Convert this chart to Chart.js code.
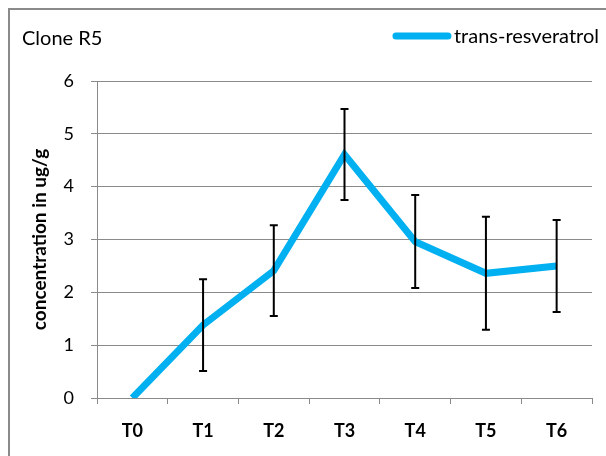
<!DOCTYPE html>
<html>
<head>
<meta charset="utf-8">
<script src="https://cdn.jsdelivr.net/npm/chart.js@4.4.1/dist/chart.umd.min.js"></script>
<style>
  html, body { margin: 0; padding: 0; background: #fff; overflow: hidden; }
  #frame { position: absolute; left: 8px; top: 8px; width: 700px; height: 600px;
           border-left: 2px solid #8a8a8a; border-top: 2px solid #8a8a8a; }
  #c { position: absolute; left: 0; top: 0; }
</style>
</head>
<body>
<div id="frame"></div>
<canvas id="c" width="606" height="456"></canvas>
<script>
const timepoints = ["T0", "T1", "T2", "T3", "T4", "T5", "T6"];
const resveratrol = [0, 1.38, 2.41, 4.61, 2.96, 2.36, 2.5];
const errors = [0, 0.87, 0.86, 0.86, 0.88, 1.07, 0.87];
const yTicks = [0, 1, 2, 3, 4, 5, 6];

const gridColor = "#8a8a8a";

// error bars, drawn through the chart's own scales
const errorBars = {
    id: "errorBars",
    afterDatasetsDraw(chart) {
        const ctx = chart.ctx;
        const x = chart.scales.x, y = chart.scales.y;
        ctx.save();
        ctx.strokeStyle = "#000";
        ctx.lineWidth = 2;
        resveratrol.forEach((v, i) => {
            if (!errors[i]) return;
            const px = x.getPixelForValue(i);
            const top = y.getPixelForValue(v + errors[i]);
            const bot = y.getPixelForValue(v - errors[i]);
            ctx.beginPath();
            ctx.moveTo(px, top); ctx.lineTo(px, bot);
            ctx.moveTo(px - 4, top); ctx.lineTo(px + 4, top);
            ctx.moveTo(px - 4, bot); ctx.lineTo(px + 4, bot);
            ctx.stroke();
        });
        ctx.restore();
    }
};

// legend sits on the same line as the title, top right
const lineLegend = {
    id: "lineLegend",
    afterDraw(chart) {
        const ctx = chart.ctx;
        const ds = chart.data.datasets[0];
        ctx.save();
        ctx.font = "20px Lato";
        ctx.textBaseline = "middle";
        ctx.textAlign = "left";
        const w = ctx.measureText(ds.label).width;
        const textX = 599 - w;
        ctx.fillStyle = "#000";
        ctx.fillText(ds.label, textX, 37);
        ctx.strokeStyle = ds.borderColor;
        ctx.lineWidth = 7;
        ctx.lineCap = "round";
        ctx.beginPath();
        ctx.moveTo(textX - 58, 36);
        ctx.lineTo(textX - 6, 36);
        ctx.stroke();
        ctx.restore();
    }
};

new Chart(document.getElementById("c"), {
    type: 'line',
    data: {
        labels: timepoints,
        datasets: [{
            label: "trans-resveratrol",
            data: resveratrol,
            borderColor: "#00b0f0",
            backgroundColor: "#00b0f0",
            borderWidth: 7,
            pointRadius: 0,
            tension: 0,
            fill: false
        }]
    },
    options: {
        responsive: false,
        animation: false,
        devicePixelRatio: 1,
        layout: {
            padding: { left: 22, right: 14, top: 0, bottom: 0 }
        },
        plugins: {
            legend: { display: false },
            tooltip: { enabled: false },
            title: {
                display: true,
                text: "Clone R5",
                align: 'start',
                color: "#000",
                font: { family: "Lato", size: 20, weight: 'normal', lineHeight: 1.2 },
                padding: { top: 27, bottom: 30 }
            }
        },
        scales: {
            x: {
                offset: true,
                grid: {
                    offset: true,
                    drawOnChartArea: false,
                    tickLength: 6,
                    color: gridColor
                },
                border: { display: true, color: gridColor },
                ticks: {
                    color: "#000",
                    padding: 16,
                    font: { family: "Lato", size: 18, weight: 'bold' }
                },
                afterFit(scale) { scale.height = 58; }
            },
            y: {
                min: 0,
                max: 6,
                afterBuildTicks(scale) { scale.ticks = yTicks.map(v => ({ value: v })); },
                grid: { color: gridColor, tickLength: 6 },
                border: { display: true, color: gridColor },
                ticks: {
                    color: "#000",
                    padding: 17,
                    font: { family: "Lato", size: 18 }
                },
                title: {
                    display: true,
                    text: "concentration in ug/g",
                    color: "#000",
                    font: { family: "Lato", size: 19, weight: 'bold', lineHeight: 1.2 },
                    padding: { top: 6, bottom: 0 }
                },
                afterFit(scale) { scale.width = 97 - 22; }
            }
        }
    },
    plugins: [errorBars, lineLegend]
});
</script>
</body>
</html>
